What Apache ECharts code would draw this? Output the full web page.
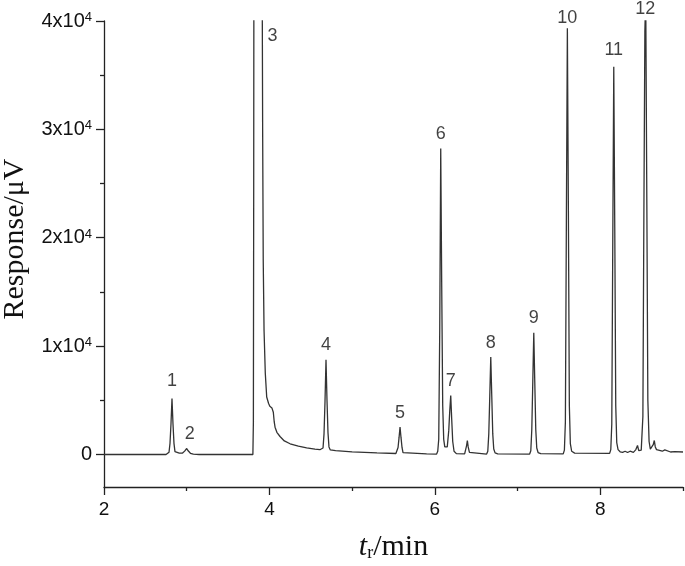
<!DOCTYPE html>
<html>
<head>
<meta charset="utf-8">
<script src="https://cdn.jsdelivr.net/npm/echarts@6/dist/echarts.min.js"></script>
<style>html,body{margin:0;padding:0;background:#fff}#c{width:685px;height:566px}</style>
</head>
<body>
<div id="c"></div>
<script>
// retention time (min), response (µV)
const signal = [
  [2.00, 0], [2.75, 0],
  [2.772, 0], [2.786, 210], [2.798, 1030], [2.810, 2840], [2.822, 5170], [2.834, 2840], [2.846, 1030], [2.858, 260], [2.875, 110],
  [2.91, 120], [2.95, 130], [2.975, 310], [3.00, 550], [3.02, 320], [3.045, 110], [3.08, 30], [3.15, 0],
  [3.800, 0], [3.806, 3000], [3.810, 25000], [3.816, 80000], [3.85, 200000], [3.88, 210000], [3.90, 120000],
  [3.912, 45000], [3.918, 30000], [3.925, 18000], [3.935, 11450], [3.950, 7500], [3.967, 5300], [3.990, 4700],
  [4.005, 4450], [4.015, 4500], [4.030, 4300], [4.047, 3900], [4.058, 3000], [4.068, 2520], [4.090, 2050],
  [4.128, 1660], [4.18, 1250], [4.25, 990], [4.35, 780], [4.45, 620], [4.55, 500], [4.61, 440], [4.634, 420],
  [4.648, 600], [4.660, 1900], [4.672, 4900], [4.684, 8750], [4.696, 5000], [4.708, 2000], [4.720, 700], [4.736, 420],
  [4.8, 360], [5.0, 250], [5.3, 150], [5.529, 90],
  [5.543, 140], [5.555, 650], [5.567, 1550], [5.579, 2520], [5.591, 1550], [5.603, 650], [5.615, 180], [5.633, 80],
  [5.9, 50], [6.021, 40],
  [6.035, 300], [6.047, 1400], [6.059, 11500], [6.071, 28240], [6.083, 15500], [6.095, 4500], [6.107, 1400], [6.12, 700], [6.135, 550],
  [6.150, 700], [6.168, 2200], [6.180, 4000], [6.192, 5450], [6.204, 3200], [6.216, 1200], [6.232, 300], [6.26, 80], [6.36, 50],
  [6.372, 200], [6.383, 800], [6.393, 1290], [6.403, 700], [6.418, 200], [6.44, 60], [6.626, 40],
  [6.640, 300], [6.652, 1900], [6.664, 5400], [6.676, 8990], [6.688, 5400], [6.700, 1900], [6.712, 500], [6.728, 150], [6.76, 60], [7.146, 40],
  [7.160, 350], [7.172, 2300], [7.184, 6700], [7.196, 11240], [7.208, 6700], [7.220, 2300], [7.232, 600], [7.248, 180], [7.28, 80], [7.552, 60],
  [7.566, 400], [7.578, 3000], [7.590, 21500], [7.602, 39320], [7.614, 23000], [7.626, 4500], [7.638, 1000], [7.654, 300], [7.69, 130], [8.113, 100],
  [8.127, 450], [8.139, 2800], [8.151, 19600], [8.163, 35780], [8.175, 21000], [8.187, 4500], [8.199, 1100], [8.215, 450],
  [8.24, 250], [8.27, 200], [8.30, 300], [8.33, 180], [8.36, 300], [8.40, 200], [8.43, 450], [8.45, 830], [8.465, 350], [8.48, 250], [8.495, 400],
  [8.503, 500], [8.515, 3500], [8.527, 22000], [8.539, 39000], [8.545, 41000], [8.551, 40000], [8.563, 23000], [8.575, 5000], [8.590, 1200],
  [8.605, 500], [8.62, 400], [8.64, 900], [8.653, 1290], [8.665, 700], [8.68, 450], [8.70, 380], [8.75, 300], [8.78, 420], [8.80, 250],
  [8.85, 230], [8.9, 260], [9.0, 230]
];

const peakNames = ['1', '2', '3', '4', '5', '6', '7', '8', '9', '10', '11', '12'];
const peakTimes = [2.822, 3.00, 3.88, 4.684, 5.579, 6.071, 6.192, 6.676, 7.196, 7.602, 8.163, 8.545];
const peakHeights = [5170, 550, 40000, 8750, 2520, 28240, 5450, 8990, 11240, 39320, 35780, 40000];

const xMajorTicks = [2, 4, 6, 8];
const xMinorTicks = [3, 5, 7, 9];
const yMajorTicks = [0, 10000, 20000, 30000, 40000];
const yMinorTicks = [5000, 15000, 25000, 35000];

const labelOffsets = {'3': [13, 30], '2': [3, 0], '1': [0, -3], '10': [0, 4], '11': [0, -2], '12': [0, 3]};

const chart = echarts.init(document.getElementById('c'), null, {renderer: 'canvas'});
const axisColor = '#222';
const sans = 'Liberation Sans, Arial, sans-serif';
const serif = 'Liberation Serif, Times New Roman, serif';

chart.setOption({
  animation: false,
  backgroundColor: '#fff',
  grid: {left: 104, right: 2, top: 21, bottom: 79, containLabel: false, outerBoundsMode: 'none'},
  xAxis: [{
    type: 'value', min: 2, max: 9,
    axisLine: {show: true, onZero: false, lineStyle: {color: axisColor, width: 1.3}},
    axisTick: {show: true, length: 8, customValues: xMajorTicks, lineStyle: {color: axisColor, width: 1.3}},
    axisLabel: {customValues: xMajorTicks, color: '#111', fontSize: 19, fontFamily: sans, margin: 13},
    splitLine: {show: false},
    name: '{t|t}{r|r}{m|/min}', nameLocation: 'middle', nameGap: 45,
    nameTextStyle: {
      rich: {
        t: {fontFamily: serif, fontStyle: 'italic', fontSize: 30, color: '#111'},
        r: {fontFamily: serif, fontSize: 18, color: '#111', verticalAlign: 'bottom', lineHeight: 30},
        m: {fontFamily: serif, fontSize: 30, color: '#111'}
      }
    }
  }, {
    type: 'value', min: 2, max: 9,
    axisLine: {show: false, onZero: false},
    axisTick: {show: true, length: 4, customValues: xMinorTicks, lineStyle: {color: axisColor, width: 1.3}},
    axisLabel: {show: false}, splitLine: {show: false}, position: 'bottom'
  }],
  yAxis: [{
    type: 'value', min: -3000, max: 40000,
    axisLine: {show: true, lineStyle: {color: axisColor, width: 1.3}},
    axisTick: {show: true, length: 8, customValues: yMajorTicks, lineStyle: {color: axisColor, width: 1.3}},
    axisLabel: {
      customValues: yMajorTicks, margin: 12, fontFamily: sans, color: '#111',
      formatter: v => v === 0 ? '{b|0}' : '{b|' + (v / 10000) + 'x10}{s|4}',
      rich: {
        b: {fontSize: 20, fontFamily: sans, color: '#111', lineHeight: 20},
        s: {fontSize: 13, fontFamily: sans, color: '#111', verticalAlign: 'top', lineHeight: 12}
      }
    },
    splitLine: {show: false},
    name: 'Response/μV', nameLocation: 'middle', nameRotate: 90, nameGap: 74,
    nameTextStyle: {fontFamily: serif, fontSize: 30, color: '#111', padding: [0, 0, 0, 30]}
  }, {
    type: 'value', min: -3000, max: 40000, position: 'left',
    axisLine: {show: false},
    axisTick: {show: true, length: 4, customValues: yMinorTicks, lineStyle: {color: axisColor, width: 1.3}},
    axisLabel: {show: false}, splitLine: {show: false}
  }],
  series: [{
    type: 'line', data: signal, xAxisIndex: 0, yAxisIndex: 0,
    showSymbol: false, symbol: 'none', clip: true, silent: true,
    lineStyle: {color: '#333', width: 1.3}
  }, {
    type: 'scatter', xAxisIndex: 0, yAxisIndex: 0, silent: true, clip: false,
    symbolSize: 1, itemStyle: {color: 'rgba(0,0,0,0)'},
    data: peakNames.map((n, i) => ({
      value: [peakTimes[i], peakHeights[i], n],
      label: {offset: labelOffsets[n] || [0, 0]}
    })),
    label: {
      show: true, position: 'top', distance: 5,
      formatter: p => p.value[2],
      fontFamily: sans, fontSize: 18, color: '#111'
    }
  }]
});
</script>
</body>
</html>
